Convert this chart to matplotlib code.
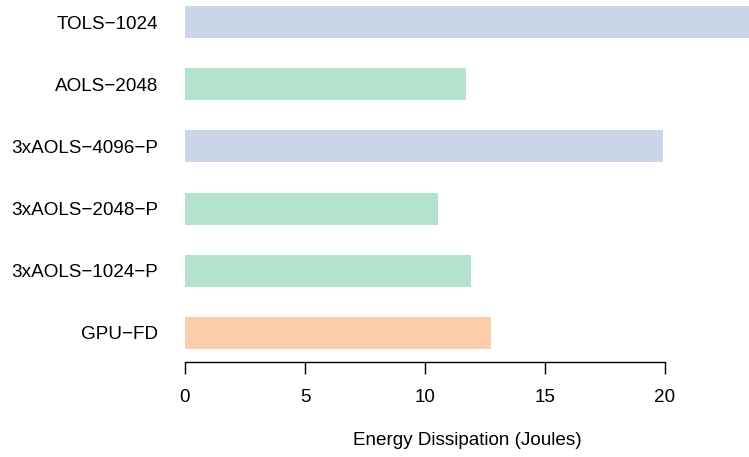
import matplotlib
matplotlib.use("Agg")
import matplotlib.pyplot as plt

plt.rcParams['font.family'] = ['Liberation Sans', 'DejaVu Sans']

labels = ["GPU\u2212FD", "3xAOLS\u22121024\u2212P", "3xAOLS\u22122048\u2212P",
          "3xAOLS\u22124096\u2212P", "AOLS\u22122048", "TOLS\u22121024"]
energy = [12.75, 11.92, 10.55, 19.93, 11.72, 24.6]
colors = ["#FDCDAC", "#B3E2CD", "#B3E2CD", "#CBD5E8", "#B3E2CD", "#CBD5E8"]
xticks = [0, 5, 10, 15, 20]

W, H = 749, 457
fs = 13.6
fig = plt.figure(figsize=(W / 100, H / 100), dpi=100)
# axes placed in pixel terms: x 185..749, y 0..362 from top
ax = fig.add_axes([185 / W, (H - 362) / H, (W - 185) / W, 362 / H])

ypos = list(range(len(labels)))
ax.barh(ypos, energy, height=0.516, color=colors, edgecolor="none")

ax.set_xlim(0, (W - 185) / 24.0)
ax.set_ylim(-0.468, 5.355)

for s in ["top", "right", "left"]:
    ax.spines[s].set_visible(False)
ax.spines["bottom"].set_bounds(0, 20)
ax.spines["bottom"].set_linewidth(1.0)

ax.set_xticks(xticks)
ax.set_xticklabels([str(t) for t in xticks], fontsize=fs)
ax.tick_params(axis="x", length=8.3, width=1.0, pad=11)

ax.set_yticks(ypos)
ax.set_yticklabels(labels, fontsize=fs)
ax.tick_params(axis="y", length=0, pad=19.5)

ax.set_xlabel("Energy Dissipation (Joules)", fontsize=fs, labelpad=19)

fig.savefig("out.png", dpi=100)
